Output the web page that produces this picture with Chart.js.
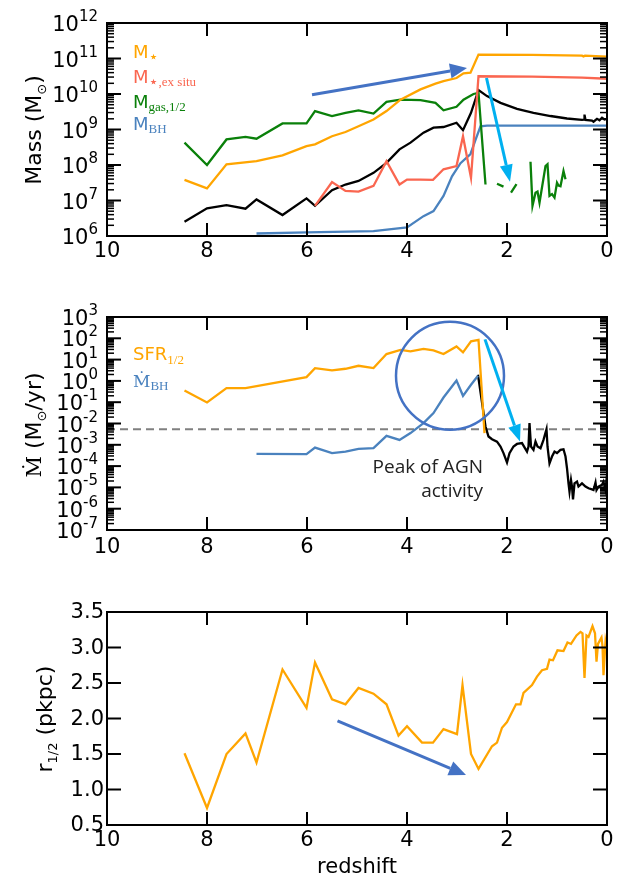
<!DOCTYPE html>
<html>
<head>
<meta charset="utf-8">
<script src="https://cdn.jsdelivr.net/npm/chart.js@4.4.1/dist/chart.umd.min.js"></script>
<style>
    html, body { margin: 0; padding: 0; background: #fff; }
    #wrap { position: relative; width: 625px; height: 879px; }
    canvas { position: absolute; left: 0; }
</style>
</head>
<body>
<div id="wrap">
    <canvas id="massChart" width="625" height="290" style="top:0px"></canvas>
    <canvas id="rateChart" width="625" height="290" style="top:290px"></canvas>
    <canvas id="sizeChart" width="625" height="299" style="top:580px"></canvas>
</div>
<script>
// ---------------- data ----------------
// redshift ticks
const zTicks = [10, 8, 6, 4, 2, 0];

// ---- panel 1 : masses, log10(M / Msun) ----
const massExps = [6, 7, 8, 9, 10, 11, 12];

const mStarZ   = [8.45, 8.0, 7.61, 7.01, 6.49, 6.01, 5.84, 5.5, 5.23, 4.97, 4.67, 4.41, 4.13, 3.73, 3.43, 3.27, 3.01, 2.87, 2.73, 2.57, 1.5, 0.5, 0.47, 0.44, 0];
const mStarLog = [7.58, 7.34, 8.02, 8.11, 8.27, 8.53, 8.58, 8.81, 8.93, 9.09, 9.28, 9.52, 9.84, 10.13, 10.29, 10.36, 10.45, 10.58, 10.6, 11.11, 11.1, 11.08, 11.06, 11.08, 11.05];

const mExZ   = [5.84, 5.5, 5.23, 4.97, 4.67, 4.41, 4.15, 4.0, 3.73, 3.48, 3.27, 3.01, 2.88, 2.72, 2.57, 1.5, 0.5, 0];
const mExLog = [6.85, 7.52, 7.27, 7.25, 7.41, 8.11, 7.45, 7.59, 7.59, 7.58, 7.88, 7.97, 8.81, 7.64, 10.5, 10.49, 10.46, 10.43];

// gas mass inside r1/2 (null = no gas -> gap in the line)
const mGasZ   = [8.45, 8.0, 7.61, 7.23, 7.01, 6.49, 6.01, 5.84, 5.5, 5.23, 4.97, 4.67, 4.41, 4.13, 3.73, 3.43, 3.27, 3.01, 2.87, 2.67, 2.57, 2.43, 2.3, 2.2, 2.07, 1.98, 1.92, 1.81, 1.7, 1.53, 1.49, 1.43, 1.39, 1.35, 1.23, 1.19, 1.15, 1.1, 1.05, 1.0, 0.97, 0.93, 0.87, 0.83];
const mGasLog = [8.63, 8.0, 8.72, 8.79, 8.74, 9.17, 9.17, 9.52, 9.38, 9.47, 9.54, 9.45, 9.78, 9.84, 9.83, 9.75, 9.54, 9.64, 9.84, 10.0, 10.03, 7.45, null, 7.47, 7.39, null, 7.22, 7.46, null, 8.09, 6.85, 7.22, 7.25, 6.94, 7.97, 8.02, 7.13, 7.18, 7.08, 7.5, 7.42, 7.4, 7.83, 7.6];

// black line (no legend entry)
const mOtherZ   = [8.45, 8.0, 7.61, 7.23, 7.01, 6.49, 6.01, 5.84, 5.5, 5.23, 4.97, 4.67, 4.41, 4.15, 3.93, 3.67, 3.47, 3.27, 3.01, 2.88, 2.72, 2.57, 2.4, 2.13, 1.8, 1.47, 1.13, 0.8, 0.5, 0.46, 0.45, 0.43, 0.3, 0.27, 0.2, 0.15, 0.1, 0.05, 0];
const mOtherLog = [6.4, 6.78, 6.87, 6.77, 7.03, 6.59, 7.06, 6.85, 7.29, 7.45, 7.55, 7.78, 8.06, 8.44, 8.63, 8.91, 9.05, 9.07, 9.19, 8.98, 9.47, 10.11, 9.94, 9.75, 9.58, 9.47, 9.38, 9.31, 9.27, 9.28, 9.42, 9.27, 9.25, 9.22, 9.3, 9.26, 9.33, 9.28, 9.3];

const mBhZ   = [7.01, 6.0, 4.67, 4.0, 3.67, 3.47, 3.27, 3.1, 2.93, 2.73, 2.63, 2.53, 2.4, 0];
const mBhLog = [6.07, 6.1, 6.14, 6.24, 6.56, 6.7, 7.13, 7.68, 8.05, 8.31, 8.71, 9.09, 9.11, 9.11];

// ---- panel 2 : rates, log10(Mdot / Msun yr^-1) ----
const rateExps = [-7, -6, -5, -4, -3, -2, -1, 0, 1, 2, 3];

const sfrZ   = [8.45, 8.0, 7.61, 7.23, 6.01, 5.84, 5.5, 5.23, 4.97, 4.67, 4.41, 4.13, 3.93, 3.67, 3.47, 3.27, 3.01, 2.88, 2.72, 2.57, 2.45];
const sfrLog = [-0.45, -1.01, -0.34, -0.34, 0.18, 0.6, 0.49, 0.57, 0.71, 0.6, 1.26, 1.46, 1.39, 1.5, 1.43, 1.26, 1.62, 1.34, 1.86, 1.93, -2.45];

const mdotZ   = [7.01, 6.01, 5.84, 5.5, 5.23, 4.97, 4.67, 4.41, 4.15, 3.93, 3.67, 3.47, 3.27, 3.01, 2.88, 2.72, 2.58];
const mdotLog = [-3.43, -3.44, -3.13, -3.39, -3.32, -3.19, -3.16, -2.58, -2.77, -2.45, -1.98, -1.51, -0.78, 0.02, -0.7, -0.18, 0.24];

const mdotLateZ   = [2.58, 2.43, 2.37, 2.3, 2.2, 2.13, 2.07, 2.0, 1.95, 1.87, 1.8, 1.7, 1.6, 1.57, 1.55, 1.52, 1.47, 1.43, 1.39, 1.33, 1.27, 1.21, 1.19, 1.15, 1.1, 1.05, 1.0, 0.93, 0.87, 0.83, 0.8, 0.77, 0.75, 0.72, 0.7, 0.68, 0.65, 0.6, 0.57, 0.5, 0.43, 0.37, 0.3, 0.27, 0.23, 0.21, 0.17, 0.1, 0.07, 0.03, 0.01, 0];
const mdotLateLog = [0.29, -2.14, -2.61, -2.74, -2.85, -3.08, -3.39, -3.83, -3.39, -3.08, -2.96, -2.92, -3.32, -3.08, -1.98, -3.08, -3.24, -2.85, -3.08, -3.16, -2.77, -2.27, -3.08, -3.87, -3.55, -3.32, -3.39, -3.24, -3.21, -3.55, -4.1, -4.81, -5.2, -4.65, -4.96, -5.56, -4.81, -4.73, -4.96, -4.81, -4.96, -5.04, -5.09, -5.12, -4.77, -5.12, -4.96, -4.88, -4.73, -5.12, -4.65, -4.73];

// dashed reference level
const refZ   = [10, 0];
const refLog = [-2.27, -2.27];

// ---- panel 3 : half-mass radius (pkpc) ----
const rTicks = [0.5, 1.0, 1.5, 2.0, 2.5, 3.0, 3.5];
const rHalfZ = [8.45, 8.0, 7.61, 7.23, 7.01, 6.49, 6.01, 5.84, 5.5, 5.23, 4.97, 4.67, 4.41, 4.17, 4.0, 3.7, 3.48, 3.27, 3.0, 2.89, 2.72, 2.57, 2.3, 2.2, 2.1, 2.0, 1.82, 1.73, 1.67, 1.5, 1.4, 1.3, 1.2, 1.15, 1.08, 0.99, 0.87, 0.79, 0.72, 0.61, 0.53, 0.49, 0.45, 0.41, 0.37, 0.29, 0.24, 0.21, 0.18, 0.11, 0.09, 0.07, 0.03, 0.01];
const rHalf  = [1.51, 0.74, 1.5, 1.79, 1.38, 2.69, 2.15, 2.79, 2.27, 2.2, 2.43, 2.35, 2.2, 1.76, 1.89, 1.66, 1.66, 1.85, 1.78, 2.47, 1.5, 1.29, 1.61, 1.66, 1.87, 1.95, 2.2, 2.2, 2.36, 2.47, 2.59, 2.68, 2.7, 2.83, 2.82, 2.96, 2.95, 3.07, 3.05, 3.17, 3.22, 3.2, 2.57, 3.17, 3.15, 3.3, 3.2, 2.8, 3.05, 3.14, 3.02, 2.61, 3.08, 3.0];

// colours
const ORANGE = '#FFA500', RED = '#FA6650', GREEN = '#0A800A', BLUE = '#4A82BE', DARKBLUE = '#4472C4', CYAN = '#00B0F0';
const SANS = '"DejaVu Sans"', SERIF = '"Liberation Serif"';

// ---------------- helpers ----------------
function logPts(zs, logs) {
    return zs.map((z, i) => ({ x: z, y: logs[i] === null ? null : Math.pow(10, logs[i]) }));
}
function linPts(zs, vals) {
    return zs.map((z, i) => ({ x: z, y: vals[i] }));
}
function line(ctx, x1, y1, x2, y2) {
    ctx.beginPath(); ctx.moveTo(x1, y1); ctx.lineTo(x2, y2); ctx.stroke();
}
// draws a list of [text, font, dy] pieces one after the other
function drawRuns(ctx, runs, x, y, align) {
    let w = 0;
    runs.forEach(r => { ctx.font = r[1]; w += ctx.measureText(r[0]).width; });
    let cx = align === 'center' ? x - w / 2 : (align === 'right' ? x - w : x);
    ctx.textAlign = 'left';
    ctx.textBaseline = 'alphabetic';
    runs.forEach(r => {
        ctx.font = r[1];
        ctx.fillText(r[0], cx, y + (r[2] || 0));
        cx += ctx.measureText(r[0]).width;
    });
}
function yTitle(ctx, runs, x, y) {
    ctx.save();
    ctx.translate(x, y);
    ctx.rotate(-Math.PI / 2);
    ctx.fillStyle = '#000';
    drawRuns(ctx, runs, 0, 0, 'center');
    ctx.restore();
}
function arrow(ctx, x1, y1, x2, y2, color, headLen, headW) {
    const a = Math.atan2(y2 - y1, x2 - x1);
    const bx = x2 - headLen * Math.cos(a), by = y2 - headLen * Math.sin(a);
    ctx.strokeStyle = color; ctx.fillStyle = color; ctx.lineWidth = 3;
    line(ctx, x1, y1, bx, by);
    ctx.beginPath();
    ctx.moveTo(x2, y2);
    ctx.lineTo(bx + headW / 2 * Math.sin(a), by - headW / 2 * Math.cos(a));
    ctx.lineTo(bx - headW / 2 * Math.sin(a), by + headW / 2 * Math.cos(a));
    ctx.closePath();
    ctx.fill();
}

// ---------------- per panel settings ----------------
const panelCfg = {
    massChart: {
        pad: { left: 107, right: 18, top: 23, bottom: 54 },
        yType: 'log', exps: massExps, xLabelDy: 21,
        extras: function (chart, ctx) {
            const x = chart.scales.x, y = chart.scales.y;
            // legend
            ctx.fillStyle = ORANGE; drawRuns(ctx, [['M', '18px ' + SANS], ['\u22C6', '16px ' + SANS, 4]], 133, 58);
            ctx.fillStyle = RED;    drawRuns(ctx, [['M', '18px ' + SANS], ['\u22C6', '16px ' + SANS, 4], [',ex situ', '13px ' + SERIF, 3]], 133, 83);
            ctx.fillStyle = GREEN;  drawRuns(ctx, [['M', '18px ' + SANS], ['gas,1/2', '13px ' + SERIF, 3]], 133, 108);
            ctx.fillStyle = BLUE;   drawRuns(ctx, [['M', '18px ' + SANS], ['BH', '13px ' + SERIF, 3]], 133, 130);
            // arrows
            arrow(ctx, x.getPixelForValue(5.9), y.getPixelForValue(Math.pow(10, 9.98)),
                       x.getPixelForValue(2.8), y.getPixelForValue(Math.pow(10, 10.73)), DARKBLUE, 17, 15);
            arrow(ctx, x.getPixelForValue(2.41), y.getPixelForValue(Math.pow(10, 10.45)),
                       x.getPixelForValue(1.94), y.getPixelForValue(Math.pow(10, 7.53)), CYAN, 17, 13);
            yTitle(ctx, [['Mass (M', '22px ' + SANS], ['\u2299', '13px ' + SANS, 5], [')', '22px ' + SANS]], 41, 130);
        }
    },
    rateChart: {
        pad: { left: 107, right: 18, top: 27, bottom: 50 },
        yType: 'log', exps: rateExps, xLabelDy: 23,
        extras: function (chart, ctx) {
            const x = chart.scales.x, y = chart.scales.y;
            ctx.fillStyle = ORANGE; drawRuns(ctx, [['SFR', '18px ' + SANS], ['1/2', '13px ' + SERIF, 4]], 133, 70);
            ctx.fillStyle = BLUE;   drawRuns(ctx, [['\u1E40', '17px "DejaVu Serif"'], ['BH', '13px ' + SERIF, 3]], 133, 97);
            // circle round the AGN peak
            ctx.strokeStyle = DARKBLUE; ctx.lineWidth = 2.5;
            ctx.beginPath();
            ctx.arc(x.getPixelForValue(3.14), y.getPixelForValue(Math.pow(10, 0.24)), 54, 0, 2 * Math.PI);
            ctx.stroke();
            arrow(ctx, x.getPixelForValue(2.44), y.getPixelForValue(Math.pow(10, 1.95)),
                       x.getPixelForValue(1.74), y.getPixelForValue(Math.pow(10, -2.85)), CYAN, 17, 13);
            ctx.fillStyle = '#222';
            ctx.font = '19px "Open Sans"';
            ctx.textAlign = 'right'; ctx.textBaseline = 'alphabetic';
            ctx.fillText('Peak of AGN', x.getPixelForValue(2.48), y.getPixelForValue(Math.pow(10, -4.32)));
            ctx.fillText('activity', x.getPixelForValue(2.48), y.getPixelForValue(Math.pow(10, -5.45)));
            yTitle(ctx, [['\u1E40', '21px "DejaVu Serif"'], [' (M', '22px ' + SANS], ['\u2299', '13px ' + SANS, 5], ['/yr)', '22px ' + SANS]], 41, 135);
        }
    },
    sizeChart: {
        pad: { left: 107, right: 18, top: 32, bottom: 54 },
        yType: 'lin', ticks: rTicks, xLabelDy: 21,
        extras: function (chart, ctx) {
            const x = chart.scales.x, y = chart.scales.y;
            arrow(ctx, x.getPixelForValue(5.39), y.getPixelForValue(1.965),
                       x.getPixelForValue(2.82), y.getPixelForValue(1.204), DARKBLUE, 17, 15);
            yTitle(ctx, [['r', '22px ' + SANS], ['1/2', '13px ' + SANS, 5], [' (pkpc)', '22px ' + SANS]], 52, 139);
            ctx.fillStyle = '#000';
            ctx.font = '21px ' + SANS; ctx.textAlign = 'center'; ctx.textBaseline = 'alphabetic';
            ctx.fillText('redshift', (chart.chartArea.left + chart.chartArea.right) / 2, 293);
        }
    }
};

// matplotlib-like frame, inward ticks and tick labels
const axesPlugin = {
    id: 'mplAxes',
    afterDraw(chart) {
        const cfg = panelCfg[chart.canvas.id];
        const ctx = chart.ctx, a = chart.chartArea, x = chart.scales.x, y = chart.scales.y;
        ctx.save();
        ctx.strokeStyle = '#000';
        // x ticks + labels
        ctx.lineWidth = 2;
        ctx.fillStyle = '#000';
        ctx.font = '21px ' + SANS; ctx.textAlign = 'center'; ctx.textBaseline = 'alphabetic';
        zTicks.forEach(v => {
            const px = x.getPixelForValue(v);
            line(ctx, px, a.top, px, a.top + 13);
            line(ctx, px, a.bottom, px, a.bottom - 13);
            ctx.fillText(String(v), px, a.bottom + cfg.xLabelDy);
        });
        // y ticks + labels
        if (cfg.yType === 'log') {
            const e0 = cfg.exps[0], e1 = cfg.exps[cfg.exps.length - 1];
            for (let e = e0; e < e1; e++) {
                for (let k = 2; k <= 9; k++) {
                    const py = y.getPixelForValue(k * Math.pow(10, e));
                    ctx.lineWidth = 1.5;
                    line(ctx, a.left, py, a.left + 7, py);
                    line(ctx, a.right, py, a.right - 7, py);
                }
            }
            cfg.exps.forEach(e => {
                const py = y.getPixelForValue(Math.pow(10, e));
                ctx.lineWidth = 2;
                line(ctx, a.left, py, a.left + 14, py);
                line(ctx, a.right, py, a.right - 14, py);
                ctx.fillStyle = '#000';
                drawRuns(ctx, [['10', '21px ' + SANS, 8], [String(e), '15px ' + SANS, -2]], a.left - 9, py, 'right');
            });
        } else {
            cfg.ticks.forEach(v => {
                const py = y.getPixelForValue(v);
                ctx.lineWidth = 2;
                line(ctx, a.left, py, a.left + 14, py);
                line(ctx, a.right, py, a.right - 14, py);
                ctx.fillStyle = '#000';
                ctx.font = '21px ' + SANS; ctx.textAlign = 'right'; ctx.textBaseline = 'middle';
                ctx.fillText(v.toFixed(1), a.left - 3, py + 1);
            });
        }
        // frame
        ctx.lineWidth = 2;
        ctx.strokeRect(a.left, a.top, a.right - a.left, a.bottom - a.top);
        cfg.extras(chart, ctx);
        ctx.restore();
    }
};

function makePanel(id, datasets, yScale) {
    return new Chart(document.getElementById(id), {
        type: 'line',
        data: { datasets: datasets },
        options: {
            responsive: false,
            animation: false,
            events: [],
            layout: { padding: panelCfg[id].pad },
            plugins: { legend: { display: false }, tooltip: { enabled: false } },
            elements: { point: { radius: 0 }, line: { borderWidth: 2.3, tension: 0 } },
            scales: {
                x: { type: 'linear', min: 0, max: 10, reverse: true, display: false },
                y: Object.assign({ display: false }, yScale)
            }
        },
        plugins: [axesPlugin]
    });
}

function ds(label, data, color, extra) {
    return Object.assign({ label: label, data: data, borderColor: color, backgroundColor: color, fill: false, spanGaps: false }, extra || {});
}

// first dataset is drawn on top
makePanel('massChart', [
    ds('M*', logPts(mStarZ, mStarLog), ORANGE),
    ds('M*,ex situ', logPts(mExZ, mExLog), RED),
    ds('Mgas,1/2', logPts(mGasZ, mGasLog), GREEN),
    ds('MBH', logPts(mBhZ, mBhLog), BLUE),
    ds('black', logPts(mOtherZ, mOtherLog), '#000')
], { type: 'logarithmic', min: 1e6, max: 1e12 });

makePanel('rateChart', [
    ds('SFR1/2', logPts(sfrZ, sfrLog), ORANGE),
    ds('MdotBH', logPts(mdotZ, mdotLog), BLUE),
    ds('MdotBH late', logPts(mdotLateZ, mdotLateLog), '#000'),
    ds('ref', logPts(refZ, refLog), '#808080', { borderDash: [8, 5], borderWidth: 2 })
], { type: 'logarithmic', min: 1e-7, max: 1e3 });

makePanel('sizeChart', [
    ds('r1/2', linPts(rHalfZ, rHalf), ORANGE)
], { type: 'linear', min: 0.5, max: 3.5 });
</script>
</body>
</html>
